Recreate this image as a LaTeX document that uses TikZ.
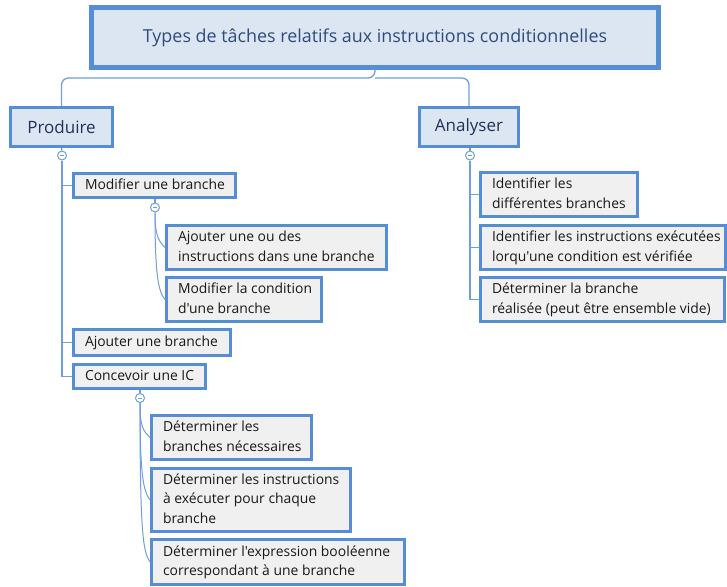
\documentclass[tikz,border=0pt]{standalone}
\usepackage{fontspec}
\setmainfont{Open Sans}[Ligatures=TeXOff]
\definecolor{bord}{RGB}{85,142,213}
\definecolor{mainfill}{RGB}{220,230,242}
\definecolor{childfill}{RGB}{240,240,240}
\definecolor{conn}{RGB}{110,158,220}
\definecolor{titletext}{RGB}{47,75,125}
\definecolor{topictext}{RGB}{30,50,90}
\definecolor{childtext}{RGB}{25,25,25}
\newcommand\bxtext[2]{\raisebox{-1.5pt}{\makebox[#1pt][l]{\hspace{11.5pt}\begin{tabular}{@{}l@{}}#2\end{tabular}}}}
\begin{document}
\begin{tikzpicture}[x=1pt,y=-1pt,
  titlebox/.style={draw=bord,line width=5pt,fill=mainfill,minimum width=567pt,minimum height=60pt,inner sep=0pt,text=titletext,font=\fontsize{17.9}{21}\selectfont},
  topicbox/.style={draw=bord,line width=3pt,fill=mainfill,minimum height=39pt,inner sep=0pt,text=topictext,font=\fontsize{17}{20}\selectfont},
  childbox/.style={draw=bord,line width=3pt,fill=childfill,inner sep=0pt,text=childtext,font=\fontsize{13.9}{19.5}\selectfont},
  link/.style={draw=conn,line width=1.3pt},
  toggle/.style={circle,draw=conn,fill=white,line width=1pt,minimum size=9pt,inner sep=0pt,
    path picture={\draw[conn,line width=0.8pt] ([xshift=-2.2pt]path picture bounding box.center) -- ([xshift=2.2pt]path picture bounding box.center);}}
]
\useasboundingbox (0,0) rectangle (727,586);

\node[titlebox] (title) at (375,37.5) {\raisebox{-1pt}{Types de tâches relatifs aux instructions conditionnelles}};
\node[topicbox,minimum width=102pt] (prod) at (61.5,127) {Produire};
\node[topicbox,minimum width=99pt] (anal) at (469,127) {Analyser};

\coordinate (tj) at (375,78);
\draw[link,rounded corners=7pt] (title.south) -- (tj) -| (prod.north);
\draw[link,rounded corners=7pt] (tj) -| (anal.north);

% Produire children
\node[childbox,minimum height=24pt] (mod) at (154.5,185.5) {\bxtext{162}{Modifier une branche}};
\node[childbox,minimum height=44pt] (ajd) at (276.5,247.5) {\bxtext{220}{Ajouter une ou des\\instructions dans une branche}};
\node[childbox,minimum height=44pt] (modc) at (244,299.5) {\bxtext{155}{Modifier la condition\\d'une branche}};
\node[childbox,minimum height=26pt] (ajb) at (152,342.5) {\bxtext{157}{Ajouter une branche}};
\node[childbox,minimum height=24pt] (conc) at (139.5,376.5) {\bxtext{132}{Concevoir une IC}};
\node[childbox,minimum height=44pt] (detb) at (231.5,437.5) {\bxtext{160}{Déterminer les\\branches nécessaires}};
\node[childbox,minimum height=63pt] (deti) at (251,500) {\bxtext{199}{Déterminer les instructions\\à exécuter pour chaque\\branche}};
\node[childbox,minimum height=45pt] (dete) at (278,562) {\bxtext{253}{Déterminer l'expression booléenne\\correspondant à une branche}};

% Analyser children
\node[childbox,minimum height=44pt] (idb) at (559,194.5) {\bxtext{157}{Identifier les\\différentes branches}};
\node[childbox,minimum height=44pt] (idi) at (603,247.5) {\bxtext{245}{Identifier les instructions exécutées\\lorqu'une condition est vérifiée}};
\node[childbox,minimum height=44pt] (detr) at (602.5,299.5) {\bxtext{244}{Déterminer la branche\\réalisée (peut être ensemble vide)}};

% toggles
\node[toggle] (tP) at (62,155.5) {};
\node[toggle] (tA) at (470,155.5) {};
\node[toggle] (tM) at (155,207.5) {};
\node[toggle] (tC) at (140,398) {};

% Produire links
\draw[link] (prod.south) -- (tP.north);
\draw[link] (tP.south) -- (tP.south |- conc.west) -- (conc.west);
\draw[link] (tP.south |- mod.west) -- (mod.west);
\draw[link] (tP.south |- ajb.west) -- (ajb.west);

% Modifier links
\draw[link] (mod.south -| tM) -- (tM.north);
\draw[link,line width=1pt] (tM.south) .. controls ([yshift=-22pt]tM.south) and ([xshift=-7pt,yshift=7pt]ajd.west) .. (ajd.west);
\draw[link,line width=1pt] (tM.south) .. controls ([yshift=-60pt]tM.south) and ([xshift=-7pt,yshift=8pt]modc.west) .. (modc.west);

% Concevoir links
\draw[link] (conc.south -| tC) -- (tC.north);
\draw[link,line width=1pt] (tC.south) .. controls ([yshift=-24pt]tC.south) and ([xshift=-7pt,yshift=7pt]detb.west) .. (detb.west);
\draw[link,line width=1pt] (tC.south) .. controls ([yshift=-70pt]tC.south) and ([xshift=-7pt,yshift=9pt]deti.west) .. (deti.west);
\draw[link,line width=1pt] (tC.south) .. controls ([yshift=-130pt]tC.south) and ([xshift=-7pt,yshift=10pt]dete.west) .. (dete.west);

% Analyser links
\draw[link] (anal.south -| tA) -- (tA.north);
\draw[link] (tA.south) -- (tA.south |- detr.west) -- (detr.west);
\draw[link] (tA.south |- idb.west) -- (idb.west);
\draw[link] (tA.south |- idi.west) -- (idi.west);
\end{tikzpicture}
\end{document}
